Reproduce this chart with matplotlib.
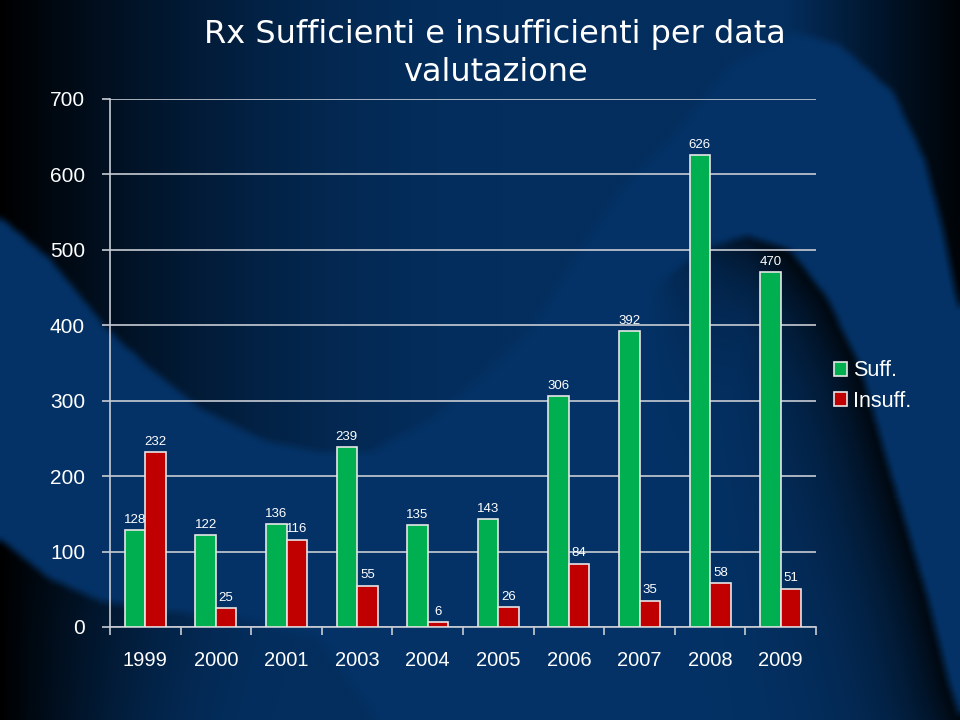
import numpy as np
import matplotlib
matplotlib.use('Agg')
import matplotlib.pyplot as plt
from matplotlib.path import Path as MPath

# Data
anni = ['1999', '2000', '2001', '2003', '2004', '2005', '2006', '2007', '2008', '2009']
suff = [128, 122, 136, 239, 135, 143, 306, 392, 626, 470]
insuff = [232, 25, 116, 55, 6, 26, 84, 35, 58, 51]

titolo = 'Rx Sufficienti e insufficienti per data\nvalutazione'
serie = ['Suff.', 'Insuff.']
verde = '#00B050'
rosso = '#C00000'
bordo = '#e6e6e6'
griglia = '#c8ccd4'

plt.rcParams['font.family'] = ['Liberation Sans', 'DejaVu Sans']

# ---- background (slide decoration)
W, H = 480, 360
sc = 960 / W
yy, xx = np.mgrid[0:H, 0:W]
xx = (xx + 0.5) * sc
yy = (yy + 0.5) * sc
pts = np.column_stack([xx.ravel(), yy.ravel()])

light = np.array([4, 50, 102]) / 255


def inside(poly):
    return MPath(poly).contains_points(pts).reshape(H, W).astype(float)


def blur(a, r=2):
    # simple box blur to soften mask edges
    p = np.pad(a, r, mode='edge')
    c = np.cumsum(np.cumsum(p, 0), 1)
    c = np.pad(c, ((1, 0), (1, 0)))
    n = 2 * r + 1
    return (c[n:, n:] - c[:-n, n:] - c[n:, :-n] + c[:-n, :-n]) / (n * n)


def smooth(t):
    t = np.clip(t, 0, 1)
    return t * t * (3 - 2 * t)


# swoosh on the left
s_up = [(0, 217), (50, 259), (110, 332), (150, 368), (200, 408), (267, 441), (320, 452),
        (370, 452), (430, 420), (480, 378), (530, 330), (580, 250)]
s_low = [(380, 725), (320, 640), (233, 616), (167, 612), (100, 601), (50, 579), (-5, 535)]
swoosh = inside([(-5, 217)] + s_up + [(620, 250), (620, 725)] + s_low)

# big hump on the right
hump = inside([(380, 725), (450, 560), (520, 400), (580, 250), (620, 190), (667, 143),
               (730, 65), (793, 32), (840, 45), (893, 92), (925, 160), (943, 230),
               (955, 290), (965, 330), (965, 725)])

lit = blur(np.maximum(swoosh, hump))

# darkness outside the light shapes
width = np.interp(yy, [0, 450, 620, 720], [500, 500, 300, 270])
f_left = smooth(xx / width) ** 0.5
f_right = np.clip((985 - xx) / 200, 0, 1) ** 1.2
dark_fac = 0.92 * f_left * f_right
fac = lit + (1 - lit) * dark_fac

# shadow under the inner hump
k = np.array([(640, 300), (700, 250), (747, 236), (790, 250), (827, 298), (860, 367),
              (893, 482), (927, 596), (950, 688), (965, 730)], dtype=float)
kk = []
for a, b in zip(k[:-1], k[1:]):
    for t in np.linspace(0, 1, 20, endpoint=False):
        kk.append(a + (b - a) * t)
kk = np.array(kk, dtype=np.float32)
d = np.empty(len(pts), dtype=np.float32)
p32 = pts.astype(np.float32)
for i in range(0, len(pts), 20000):
    blk = p32[i:i + 20000]
    d[i:i + 20000] = np.sqrt(((blk[:, None, :] - kk[None, :, :]) ** 2).sum(-1)).min(1)
d = d.reshape(H, W)
under = blur(inside([tuple(p) for p in k] + [(965, 730), (560, 730), (560, 300)]) * hump)
ombra = 0.88 * np.exp(-d / 65) * np.clip((xx - 650) / 130, 0, 1) * under
fac = fac * (1 - ombra)

img = np.clip(light[None, None, :] * fac[..., None], 0, 1)

fig = plt.figure(figsize=(9.6, 7.2), dpi=100)
bg = fig.add_axes([0, 0, 1, 1], zorder=-10)
bg.imshow(img, extent=[0, 960, 720, 0], interpolation='bilinear', aspect='auto')
bg.set_xlim(0, 960)
bg.set_ylim(720, 0)
bg.axis('off')

# ---- chart
ax = fig.add_axes([110 / 960, 1 - 627 / 720, 706 / 960, 528 / 720])
ax.patch.set_alpha(0)

x = np.arange(len(anni))
w = 0.29
b1 = ax.bar(x - w / 2, suff, w, color=verde, edgecolor=bordo, linewidth=1.2, label=serie[0], zorder=3)
b2 = ax.bar(x + w / 2, insuff, w, color=rosso, edgecolor=bordo, linewidth=1.2, label=serie[1], zorder=3)

for bars, vals in [(b1, suff), (b2, insuff)]:
    for bar, v in zip(bars, vals):
        ax.annotate(str(v), (bar.get_x() + bar.get_width() / 2, v),
                    xytext=(0, 3), textcoords='offset points',
                    ha='center', va='bottom', fontsize=9.5, color='white', zorder=4)

ax.set_xlim(-0.5, len(anni) - 0.5)
ax.set_ylim(0, 700)
ax.set_yticks(range(0, 701, 100))
ax.set_xticks(x)
ax.set_xticklabels(anni)
ax.set_xticks(np.arange(-0.5, len(anni), 1), minor=True)
ax.tick_params(axis='x', which='major', length=0, pad=17, labelsize=14.5, colors='white')
ax.tick_params(axis='x', which='minor', length=6, width=1.2, color=griglia, direction='out')
ax.tick_params(axis='y', length=6, width=1.2, color=griglia, pad=12, labelsize=15, labelcolor='white')

ax.yaxis.grid(True, color=griglia, linewidth=1.2, zorder=1)
ax.set_axisbelow(True)
for s in ['top', 'right']:
    ax.spines[s].set_visible(False)
for s in ['left', 'bottom']:
    ax.spines[s].set_color(griglia)
    ax.spines[s].set_linewidth(1.2)

fig.text(495 / 960, 1 - 19 / 720, titolo, ha='center', va='top', fontsize=23,
         color='white', family=['DejaVu Sans'], linespacing=1.3)

leg = fig.legend(handles=[b1, b2], labels=serie, loc='center left',
                 bbox_to_anchor=(834 / 960, 1 - 386 / 720), frameon=False,
                 fontsize=15.5, labelcolor='white', handlelength=0.6, handleheight=0.65,
                 handletextpad=0.3, labelspacing=0.42, borderpad=0, borderaxespad=0)

fig.savefig('out.png', dpi=100)
